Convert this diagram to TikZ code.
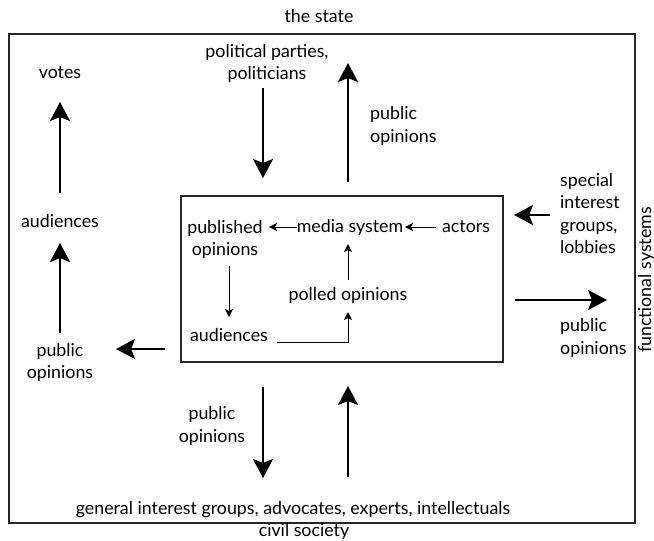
\documentclass[tikz,border=0pt]{standalone}
\usepackage{fontspec}
\setmainfont{Lato}
\usetikzlibrary{arrows.meta}
\begin{document}
\begin{tikzpicture}[x=1pt,y=-1pt,
  lbl/.style={font=\fontsize{17.8}{22.5}\selectfont, align=center, inner sep=0pt},
  big/.style={line width=2.6pt, -{Stealth[length=19pt,width=20pt,inset=4pt]}},
  small/.style={line width=1pt, -{Stealth[length=8pt,width=8pt,inset=2pt]}},
  box/.style={draw, line width=1.2pt, draw=black!85}]
\useasboundingbox (0,0) rectangle (654,541);
\draw[box] (9,34) rectangle (635,523);
\draw[box] (181,196) rectangle (503,362);
% outer labels
\node[lbl] (state) at (319,16) {the state};
\node[lbl] (civil) at (304,531) {civil society};
\node[lbl, rotate=90] (func) at (646,280) {functional systems};
\node[lbl] (votes) at (60,73) {votes};
\node[lbl] (pp) at (267,63.5) {political parties,\\politicians};
\node[lbl, align=left, anchor=west] (po1) at (370,126) {public\\opinions};
\node[lbl] (aud1) at (60,221) {audiences};
\node[lbl] (po2) at (60,362.5) {public\\opinions};
\node[lbl, align=left, anchor=west] (sig) at (560,213.5) {special\\interest\\groups,\\lobbies};
\node[lbl, align=left, anchor=west] (po3) at (560,338) {public\\opinions};
\node[lbl] (po4) at (212,426) {public\\opinions};
\node[lbl] (gen) at (293,510) {general interest groups, advocates, experts, intellectuals};
% inner labels
\node[lbl] (pub) at (225,239.5) {published\\opinions};
\node[lbl] (media) at (350,227) {media system};
\node[lbl] (actors) at (466,227) {actors};
\node[lbl] (aud2) at (229,335) {audiences};
\node[lbl] (poll) at (348,295) {polled opinions};
% coordinates for free arrow ends
\coordinate (a1s) at (263,88);  \coordinate (a1e) at (263,178);
\coordinate (a2s) at (348,182); \coordinate (a2e) at (348,63);
\coordinate (a3s) at (60,193);  \coordinate (a3e) at (60,102);
\coordinate (a4s) at (60,333);  \coordinate (a4e) at (60,243);
\coordinate (a5s) at (165,349); \coordinate (a5e) at (116,349);
\coordinate (a6s) at (550,215); \coordinate (a6e) at (514,215);
\coordinate (a7s) at (515,300); \coordinate (a7e) at (607,300);
\coordinate (a8s) at (263,387); \coordinate (a8e) at (263,478);
\coordinate (a9s) at (348,477); \coordinate (a9e) at (348,386);
\draw[big] (a1s) -- (a1e);
\draw[big] (a2s) -- (a2e);
\draw[big] (a3s) -- (a3e);
\draw[big] (a4s) -- (a4e);
\draw[big] (a5s) -- (a5e);
\draw[big] (a6s) -- (a6e);
\draw[big] (a7s) -- (a7e);
\draw[big] (a8s) -- (a8e);
\draw[big] (a9s) -- (a9e);
% inner arrows
\coordinate (i1s) at (297,227); \coordinate (i1e) at (269,227);
\coordinate (i2s) at (436,227); \coordinate (i2e) at (405,227);
\coordinate (i3s) at (229,266); \coordinate (i3e) at (229,317);
\coordinate (i4s) at (277,342); \coordinate (i4e) at (348,312);
\coordinate (i5s) at (348,280); \coordinate (i5e) at (348,244);
\draw[small] (i1s) -- (i1e);
\draw[small] (i2s) -- (i2e);
\draw[small] (i3s) -- (i3e);
\draw[small] (i4s) -| (i4e);
\draw[small] (i5s) -- (i5e);
\end{tikzpicture}
\end{document}
